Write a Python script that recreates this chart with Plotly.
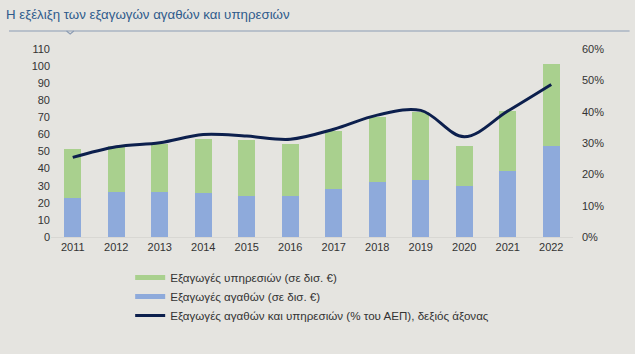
import plotly.graph_objects as go

years = ["2011", "2012", "2013", "2014", "2015", "2016", "2017", "2018", "2019", "2020", "2021", "2022"]
goods = [22.8, 26.2, 26.2, 25.7, 24.2, 24.2, 27.9, 32.2, 33.2, 29.7, 38.8, 53.5]
total = [51.7, 53.0, 54.6, 57.6, 56.6, 54.6, 61.8, 70.2, 73.0, 53.1, 74.0, 101.2]
services = [round(t - g, 1) for t, g in zip(total, goods)]
share_gdp = [0.254, 0.288, 0.301, 0.327, 0.322, 0.312, 0.344, 0.389, 0.404, 0.320, 0.402, 0.487]

title_text = "Η εξέλιξη των εξαγωγών αγαθών και υπηρεσιών"
name_services = "Εξαγωγές υπηρεσιών (σε δισ. €)"
name_goods = "Εξαγωγές αγαθών (σε δισ. €)"
name_line = "Εξαγωγές αγαθών και υπηρεσιών (% του ΑΕΠ), δεξιός άξονας"

GREEN = "#a9d08e"
BLUE = "#8eaadb"
NAVY = "#0c1f4d"
BG = "#e5e4e0"
FONT = "Liberation Sans, Arial, sans-serif"

fig = go.Figure()
fig.add_trace(go.Bar(x=years, y=goods, marker_color=BLUE, marker_line_width=0,
                     showlegend=False, name=name_goods))
fig.add_trace(go.Bar(x=years, y=services, marker_color=GREEN, marker_line_width=0,
                     showlegend=False, name=name_services))
fig.add_trace(go.Scatter(x=years, y=share_gdp, yaxis="y2", mode="lines",
                         line=dict(color=NAVY, width=3, shape="spline", smoothing=1.0),
                         showlegend=False, name=name_line))
# legend entries
fig.add_trace(go.Scatter(x=[None], y=[None], mode="lines", line=dict(color=GREEN, width=5),
                         name=name_services, legendgroup="a"))
fig.add_trace(go.Scatter(x=[None], y=[None], mode="lines", line=dict(color=BLUE, width=5),
                         name=name_goods, legendgroup="b"))
fig.add_trace(go.Scatter(x=[None], y=[None], mode="lines", line=dict(color=NAVY, width=3),
                         name=name_line, legendgroup="c"))

fig.update_layout(
    width=635, height=354,
    margin=dict(l=51, r=62, t=49, b=117, autoexpand=False),
    paper_bgcolor=BG, plot_bgcolor=BG,
    barmode="stack", bargap=0.61,
    font=dict(family=FONT, size=11, color="#333333"),
    xaxis=dict(type="category", showgrid=False, showline=True, linecolor="#d8d7d3",
               ticks="", tickfont=dict(size=11, color="#333333")),
    yaxis=dict(range=[0, 110], dtick=10, showgrid=False, zeroline=False, ticks="",
               tickfont=dict(size=11, color="#333333")),
    yaxis2=dict(range=[0, 0.6], dtick=0.1, tickformat=".0%", overlaying="y", side="right",
                showgrid=False, zeroline=False, ticks="", ticklabelstandoff=8,
                tickfont=dict(size=11, color="#333333")),
    legend=dict(xref="container", yref="container", x=0.205, y=1 - 263 / 354,
                xanchor="left", yanchor="top", itemwidth=30, tracegroupgap=2,
                traceorder="normal",
                font=dict(size=11.6, color="#333333"), bgcolor="rgba(0,0,0,0)"),
    showlegend=True,
    annotations=[dict(text=title_text, xref="paper", yref="paper", x=-51/572, y=1+34/188,
                      xanchor="left", yanchor="middle", showarrow=False,
                      font=dict(size=13.3, color="#2f5b8c", family=FONT))],
)

# title underline with small notch
fig.add_shape(type="line", xref="paper", yref="paper", x0=-46/572, x1=1+62/572,
              y0=1+18/188, y1=1+18/188, line=dict(color="#8c9cb3", width=1.2))
fig.add_shape(type="path", xref="paper", yref="paper",
              path=f"M {(68-51)/572} {1+18/188} L {(72-51)/572} {1+15/188} L {(76-51)/572} {1+18/188}",
              line=dict(color="#8c9cb3", width=1.2))

fig.write_html("out.html")
